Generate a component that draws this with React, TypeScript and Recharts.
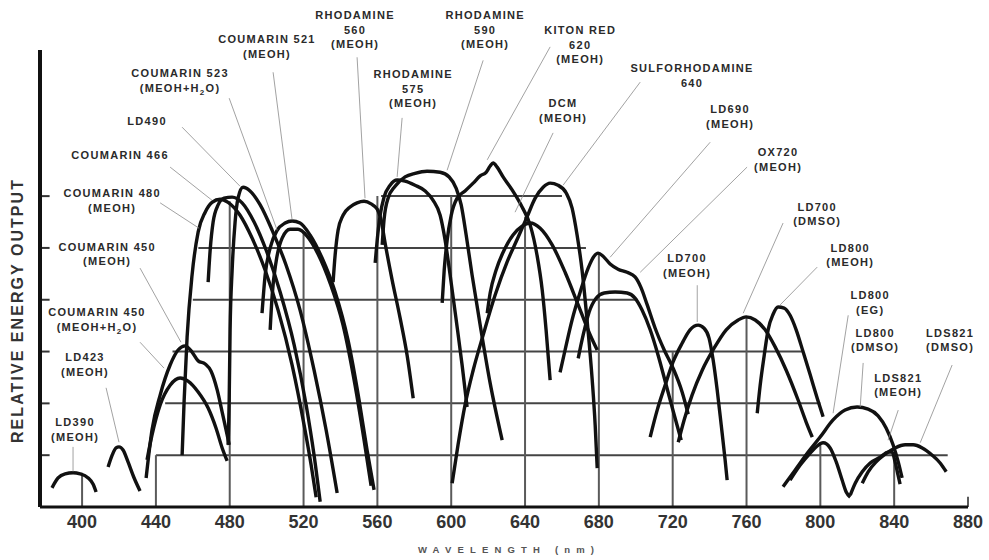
import React from 'react';
import { LineChart, Line, XAxis, YAxis, ReferenceLine, ReferenceDot, Label } from 'recharts';

type Pt = [number, number];

// ---- tuning curves: [wavelength nm, relative energy output] ----
const LD390_MEOH: Pt[] = [[383.7,0.37],[387.0,0.56],[390.8,0.64],[395.1,0.66],[398.9,0.64],[403.3,0.56],[406.0,0.44],[407.6,0.29]];
const LD423_MEOH: Pt[] = [[414.1,0.77],[416.3,1.0],[418.4,1.14],[420.0,1.16],[422.2,1.10],[424.9,0.87],[428.2,0.56],[431.4,0.31]];
const C450_MEOH: Pt[] = [[434.7,0.56],[437.9,1.49],[442.3,2.16],[447.7,2.74],[452.0,3.03],[455.8,3.11],[459.6,2.99],[462.9,2.82],[466.7,2.76],[469.9,2.62],[473.2,2.26],[475.9,1.83],[478.6,1.39],[479.7,1.20]];
const C450_MEOH_H2O: Pt[] = [[435.2,0.91],[437.9,1.39],[442.3,1.97],[447.7,2.35],[453.1,2.49],[457.4,2.43],[462.9,2.22],[468.3,1.91],[472.6,1.52],[475.9,1.14],[478.6,0.89]];
const C480_MEOH: Pt[] = [[454.2,1.0],[455.3,2.06],[456.9,3.28],[459.6,4.48],[462.9,5.31],[466.7,5.69],[470.4,5.88],[474.8,5.94],[479.1,5.88],[485.6,5.63],[492.1,5.19],[499.2,4.57],[506.2,3.80],[513.8,2.74],[520.3,1.58],[524.1,0.81],[526.8,0.19]];
const C466: Pt[] = [[468.3,4.34],[469.4,4.96],[471.0,5.50],[473.7,5.83],[476.9,5.96],[481.3,5.98],[486.7,5.87],[493.2,5.50],[499.7,4.96],[507.3,4.15],[514.9,3.13],[521.4,1.97],[525.7,1.0],[529.0,0.10]];
const LD490: Pt[] = [[479.1,1.20],[479.7,2.06],[480.2,3.42],[481.3,4.57],[482.9,5.50],[484.5,5.96],[487.2,6.17],[491.0,6.10],[496.5,5.83],[503.0,5.34],[510.5,4.67],[518.1,3.80],[525.7,2.64],[532.2,1.49],[538.2,0.27]];
const C521_MEOH: Pt[] = [[497.5,3.74],[499.2,4.48],[501.9,5.0],[505.7,5.34],[510.0,5.48],[513.8,5.52],[518.1,5.48],[523.5,5.25],[530.1,4.80],[537.1,4.15],[544.1,3.22],[550.1,2.06],[554.4,1.10],[558.2,0.33]];
const C523_MEOH_H2O: Pt[] = [[501.9,3.42],[503.0,4.09],[505.1,4.73],[508.4,5.19],[512.7,5.36],[517.0,5.36],[521.9,5.23],[527.9,4.88],[534.4,4.32],[541.4,3.51],[547.9,2.35],[552.8,1.29],[556.6,0.41]];
const R560_MEOH: Pt[] = [[536.0,4.34],[537.1,4.86],[538.7,5.34],[541.4,5.63],[545.2,5.79],[549.0,5.87],[552.8,5.90],[556.6,5.85],[559.9,5.75],[562.0,5.54],[564.2,5.09],[568.0,4.38],[572.3,3.65],[576.1,2.93],[579.4,2.10]];
const R575_MEOH: Pt[] = [[558.8,4.71],[559.9,5.15],[561.5,5.63],[563.6,5.98],[566.9,6.21],[570.7,6.31],[575.0,6.29],[580.4,6.21],[585.9,6.10],[590.2,5.92],[594.0,5.63],[596.7,5.15],[599.4,4.48],[602.7,3.61],[605.9,2.74],[608.6,1.93]];
const R590_MEOH: Pt[] = [[562.6,5.06],[563.6,5.54],[565.8,5.96],[569.6,6.19],[575.0,6.37],[580.4,6.44],[586.9,6.48],[594.0,6.46],[598.9,6.37],[602.7,6.15],[605.4,5.83],[608.1,5.25],[611.3,4.48],[615.7,3.51],[621.1,2.39],[627.6,1.29]];
const KITON_RED_620: Pt[] = [[595.1,3.94],[596.2,4.57],[597.8,5.15],[600.0,5.63],[603.2,5.96],[607.5,6.10],[611.9,6.25],[615.7,6.39],[618.9,6.46],[621.1,6.58],[622.7,6.64],[624.9,6.56],[628.1,6.37],[633.0,6.12],[638.4,5.79],[642.8,5.44],[646.5,4.86],[649.3,4.19],[651.4,3.42],[653.6,2.45]];
const SULFORHODAMINE_640: Pt[] = [[600.5,0.46],[603.7,1.20],[607.5,1.97],[611.9,2.64],[617.3,3.32],[623.8,4.09],[630.3,4.73],[636.3,5.21],[641.1,5.60],[645.5,5.96],[649.8,6.17],[653.6,6.25],[657.9,6.21],[662.3,6.06],[665.5,5.77],[668.2,5.25],[670.9,4.57],[673.6,3.61],[676.4,2.45],[678.0,1.58],[679.1,0.75]];
const DCM_MEOH: Pt[] = [[619.5,3.74],[621.1,4.13],[624.3,4.57],[628.7,4.96],[633.5,5.25],[638.4,5.42],[642.8,5.48],[648.2,5.38],[654.7,5.06],[661.7,4.53],[668.8,3.90],[675.3,3.32],[679.1,3.03]];
const LD690_MEOH: Pt[] = [[659.0,2.60],[661.7,3.03],[665.5,3.61],[669.9,4.15],[674.2,4.61],[677.4,4.84],[679.6,4.90],[682.3,4.84],[686.1,4.69],[690.4,4.59],[695.3,4.53],[699.6,4.44],[702.9,4.23],[706.2,3.90],[710.5,3.45],[715.4,3.03],[720.2,2.68],[725.1,2.22],[728.4,1.79]];
const OX720_MEOH: Pt[] = [[668.8,2.87],[671.5,3.32],[674.7,3.76],[678.5,4.03],[682.9,4.13],[688.8,4.15],[695.3,4.13],[699.6,4.03],[703.4,3.80],[707.8,3.42],[712.1,2.93],[716.5,2.35],[720.8,1.78],[724.6,1.29]];
const LD700_MEOH: Pt[] = [[707.8,1.35],[711.6,1.87],[715.9,2.35],[720.2,2.80],[725.1,3.16],[729.4,3.42],[733.8,3.51],[737.0,3.45],[739.7,3.26],[741.9,2.84],[744.1,2.26],[746.3,1.58],[748.4,0.91],[749.5,0.52]];
const LD700_DMSO: Pt[] = [[723.0,1.25],[726.2,1.68],[730.5,2.16],[736.0,2.64],[742.5,3.07],[749.0,3.42],[755.5,3.61],[759.8,3.67],[764.7,3.61],[770.1,3.42],[775.5,3.09],[781.5,2.64],[788.0,2.06],[792.3,1.64],[795.6,1.35]];
const LD800_MEOH: Pt[] = [[765.8,1.81],[767.4,2.35],[769.6,2.93],[771.7,3.42],[774.4,3.72],[777.1,3.86],[780.4,3.84],[783.6,3.70],[786.9,3.42],[790.7,2.99],[794.5,2.55],[798.3,2.10],[801.5,1.74]];
const LD800_DMSO: Pt[] = [[779.8,0.39],[786.3,0.71],[793.4,1.06],[799.9,1.35],[806.9,1.68],[813.4,1.87],[819.9,1.93],[825.9,1.89],[831.3,1.76],[835.7,1.52],[839.4,1.20],[842.2,0.87],[844.3,0.56]];
const LD800_EG: Pt[] = [[783.6,0.52],[789.1,0.81],[794.5,1.04],[798.3,1.18],[801.5,1.24],[805.3,1.14],[808.6,0.87],[811.8,0.52],[814.0,0.29],[816.2,0.19]];
const LDS821_MEOH: Pt[] = [[816.2,0.23],[818.9,0.46],[822.7,0.68],[827.0,0.85],[832.4,0.96],[836.7,1.06],[838.9,1.06],[840.5,0.87],[842.2,0.60],[843.2,0.44]];
const LDS821_DMSO: Pt[] = [[822.7,0.46],[825.9,0.68],[830.2,0.87],[835.1,1.02],[840.5,1.14],[846.0,1.20],[850.3,1.20],[855.2,1.14],[860.6,1.0],[864.9,0.85],[868.2,0.68]];

const SERIES: { name: string; pts: Pt[] }[] = [
  { name: 'LD390 (MEOH)', pts: LD390_MEOH },
  { name: 'LD423 (MEOH)', pts: LD423_MEOH },
  { name: 'COUMARIN 450 (MEOH)', pts: C450_MEOH },
  { name: 'COUMARIN 450 (MEOH+H2O)', pts: C450_MEOH_H2O },
  { name: 'COUMARIN 480 (MEOH)', pts: C480_MEOH },
  { name: 'COUMARIN 466', pts: C466 },
  { name: 'LD490', pts: LD490 },
  { name: 'COUMARIN 521 (MEOH)', pts: C521_MEOH },
  { name: 'COUMARIN 523 (MEOH+H2O)', pts: C523_MEOH_H2O },
  { name: 'RHODAMINE 560 (MEOH)', pts: R560_MEOH },
  { name: 'RHODAMINE 575 (MEOH)', pts: R575_MEOH },
  { name: 'RHODAMINE 590 (MEOH)', pts: R590_MEOH },
  { name: 'KITON RED 620 (MEOH)', pts: KITON_RED_620 },
  { name: 'SULFORHODAMINE 640', pts: SULFORHODAMINE_640 },
  { name: 'DCM (MEOH)', pts: DCM_MEOH },
  { name: 'LD690 (MEOH)', pts: LD690_MEOH },
  { name: 'OX720 (MEOH)', pts: OX720_MEOH },
  { name: 'LD700 (MEOH)', pts: LD700_MEOH },
  { name: 'LD700 (DMSO)', pts: LD700_DMSO },
  { name: 'LD800 (MEOH)', pts: LD800_MEOH },
  { name: 'LD800 (DMSO)', pts: LD800_DMSO },
  { name: 'LD800 (EG)', pts: LD800_EG },
  { name: 'LDS821 (MEOH)', pts: LDS821_MEOH },
  { name: 'LDS821 (DMSO)', pts: LDS821_DMSO },
];

// ---- axes ----
const X_DOMAIN: [number, number] = [377.2, 880];
const Y_DOMAIN: [number, number] = [0, 8.82];
const X_TICKS = [400, 440, 480, 520, 560, 600, 640, 680, 720, 760, 800, 840, 880];
const Y_LEVELS = [1, 2, 3, 4, 5, 6];

// horizontal grid rules: [level, from nm, to nm]
const H_GRID: [number, number, number][] = [[1, 440, 869], [2, 445, 800], [3, 449, 790], [4, 460, 701], [5, 463, 673], [6, 562, 660]];
// vertical grid rules: [nm, height]
const V_GRID: [number, number][] = [[400, 0.66], [440, 1.0], [480, 5.9], [520, 5.3], [560, 6.0], [600, 6.0], [640, 5.6], [680, 4.9], [720, 3.0], [760, 3.67], [800, 1.25], [840, 1.05], [880, 0.2]];

// ---- annotations: text lines, anchor [nm, level], leader [[nm, level], [nm, level]] ----
const NOTES: { lines: string[]; at: Pt; leader: [Pt, Pt] }[] = [
  { lines: ['LD390', '(MEOH)'], at: [396.2, 1.64], leader: [[395.1, 1.16], [395.1, 0.68]] },
  { lines: ['LD423', '(MEOH)'], at: [401.6, 2.89], leader: [[413.0, 2.30], [420.0, 1.25]] },
  { lines: ['COUMARIN 450', '(MEOH+H2O)'], at: [408.1, 3.76], leader: [[431.4, 3.18], [444.4, 2.68]] },
  { lines: ['COUMARIN 450', '(MEOH)'], at: [413.6, 5.02], leader: [[431.4, 4.61], [453.6, 3.18]] },
  { lines: ['COUMARIN 480', '(MEOH)'], at: [416.3, 6.06], leader: [[442.3, 5.87], [463.4, 5.38]] },
  { lines: ['COUMARIN 466'], at: [420.6, 6.79], leader: [[447.7, 6.56], [470.4, 5.92]] },
  { lines: ['LD490'], at: [435.2, 7.45], leader: [[454.2, 7.33], [485.6, 6.19]] },
  { lines: ['COUMARIN 523', '(MEOH+H2O)'], at: [453.1, 8.37], leader: [[479.7, 7.89], [505.7, 5.34]] },
  { lines: ['COUMARIN 521', '(MEOH)'], at: [500.2, 9.03], leader: [[503.5, 8.39], [513.8, 5.54]] },
  { lines: ['RHODAMINE', '560', '(MEOH)'], at: [547.9, 9.49], leader: [[549.0, 8.68], [553.3, 5.96]] },
  { lines: ['RHODAMINE', '575', '(MEOH)'], at: [579.4, 8.35], leader: [[573.4, 7.51], [570.7, 6.37]] },
  { lines: ['RHODAMINE', '590', '(MEOH)'], at: [618.4, 9.49], leader: [[617.3, 8.62], [597.8, 6.50]] },
  { lines: ['KITON RED', '620', '(MEOH)'], at: [669.9, 9.20], leader: [[653.6, 8.88], [619.5, 6.70]] },
  { lines: ['DCM', '(MEOH)'], at: [660.6, 7.79], leader: [[655.2, 7.22], [634.6, 5.69]] },
  { lines: ['SULFORHODAMINE', '640'], at: [730.5, 8.47], leader: [[702.4, 8.20], [660.6, 6.21]] },
  { lines: ['LD690', '(MEOH)'], at: [751.1, 7.68], leader: [[740.3, 7.04], [686.1, 4.82]] },
  { lines: ['OX720', '(MEOH)'], at: [777.1, 6.85], leader: [[760.3, 6.56], [702.4, 4.53]] },
  { lines: ['LD700', '(DMSO)'], at: [798.3, 5.79], leader: [[779.8, 5.48], [758.2, 3.74]] },
  { lines: ['LD800', '(MEOH)'], at: [816.2, 5.0], leader: [[798.3, 4.63], [778.2, 3.90]] },
  { lines: ['LD700', '(MEOH)'], at: [727.8, 4.80], leader: [[733.3, 4.28], [733.3, 3.57]] },
  { lines: ['LD800', '(EG)'], at: [827.0, 4.09], leader: [[815.1, 3.70], [806.9, 1.81]] },
  { lines: ['LD800', '(DMSO)'], at: [829.7, 3.36], leader: [[823.2, 2.78], [821.6, 1.93]] },
  { lines: ['LDS821', '(DMSO)'], at: [870.3, 3.36], leader: [[871.4, 2.74], [854.1, 1.24]] },
  { lines: ['LDS821', '(MEOH)'], at: [842.2, 2.49], leader: [[842.2, 1.87], [836.7, 1.29]] },
];

const FONT = '"Liberation Sans", Arial, Helvetica, sans-serif';
const LINE_H = 14.5;

const renderLine = (ln: string, i: number, cx: number) => {
  const dy = i === 0 ? 0 : LINE_H;
  const k = ln.indexOf('H2O');
  if (k >= 0) {
    return (
      <tspan key={i} x={cx} dy={dy}>
        {ln.slice(0, k + 1)}
        <tspan dy={3} fontSize={8}>2</tspan>
        <tspan dy={-3}>{ln.slice(k + 2)}</tspan>
      </tspan>
    );
  }
  return (
    <tspan key={i} x={cx} dy={dy}>
      {ln}
    </tspan>
  );
};

const noteShape = (lines: string[]) => (props: any) => {
  const { cx, cy } = props;
  return (
    <text x={cx} y={cy + 4} textAnchor="middle" fontFamily={FONT} fontWeight={700} fontSize={11} letterSpacing={1.3} fill="#2a2a2a">
      {lines.map((ln, i) => renderLine(ln, i, cx))}
    </text>
  );
};

const XTitle = (props: any) => {
  const vb = props.viewBox || { x: 40, y: 507, width: 928, height: 53 };
  const cx = vb.x + vb.width / 2 + 2;
  return (
    <text x={cx} y={vb.y + 46} textAnchor="middle" fontFamily={FONT} fontWeight={700} fontSize={9.5} fill="#555" textLength={176} lengthAdjust="spacing">
      WAVELENGTH (nm)
    </text>
  );
};

const YTitle = (props: any) => {
  const vb = props.viewBox || { x: 0, y: 50, width: 40, height: 457 };
  const x = vb.x + 17;
  const y = vb.y + vb.height / 2 + 33;
  return (
    <text x={x} y={y} transform={`rotate(-90, ${x}, ${y})`} textAnchor="middle" dominantBaseline="central" fontFamily={FONT} fontWeight={700} fontSize={16} fill="#333" textLength={263} lengthAdjust="spacing">
      RELATIVE ENERGY OUTPUT
    </text>
  );
};

export default function App() {
  return (
    <div style={{ position: 'absolute', left: 0, top: 0, width: 989, height: 560, background: '#fff' }}>
      <LineChart width={989} height={560} margin={{ top: 50, right: 21, bottom: 0, left: 0 }}>
        <XAxis
          type="number"
          dataKey="x"
          domain={X_DOMAIN}
          ticks={X_TICKS}
          interval={0}
          allowDataOverflow
          height={53}
          tickLine={false}
          tickMargin={2}
          axisLine={{ stroke: '#111', strokeWidth: 3 }}
          tick={{ fontSize: 18, fontWeight: 700, fill: '#333', fontFamily: FONT }}
        >
          <Label content={<XTitle />} />
        </XAxis>
        <YAxis
          type="number"
          domain={Y_DOMAIN}
          allowDataOverflow
          width={40}
          tick={false}
          tickLine={false}
          axisLine={{ stroke: '#111', strokeWidth: 4 }}
        >
          <Label content={<YTitle />} />
        </YAxis>

        {H_GRID.map(([lv, a, b]) => (
          <ReferenceLine key={`h${lv}`} segment={[{ x: a, y: lv }, { x: b, y: lv }]} stroke="#444" strokeWidth={2} ifOverflow="visible" zIndex={-50} />
        ))}
        {V_GRID.map(([w, h]) => (
          <ReferenceLine key={`v${w}`} segment={[{ x: w, y: 0 }, { x: w, y: h }]} stroke="#5a5a5a" strokeWidth={2} ifOverflow="visible" zIndex={-50} />
        ))}
        {Y_LEVELS.map((lv) => (
          <ReferenceLine key={`t${lv}`} segment={[{ x: 377.2, y: lv }, { x: 382.4, y: lv }]} stroke="#333" strokeWidth={2} ifOverflow="visible" zIndex={-50} />
        ))}

        {SERIES.map((s) => (
          <Line
            key={s.name}
            name={s.name}
            data={s.pts.map(([x, v]) => ({ x, v }))}
            dataKey="v"
            type="monotone"
            stroke="#111"
            strokeWidth={3.4}
            dot={false}
            activeDot={false}
            isAnimationActive={false}
          />
        ))}

        {NOTES.map((n, i) => (
          <ReferenceLine key={`l${i}`} segment={[{ x: n.leader[0][0], y: n.leader[0][1] }, { x: n.leader[1][0], y: n.leader[1][1] }]} stroke="#8a8a8a" strokeWidth={0.8} ifOverflow="visible" />
        ))}
        {NOTES.map((n, i) => (
          <ReferenceDot key={`n${i}`} x={n.at[0]} y={n.at[1]} r={0} ifOverflow="visible" shape={noteShape(n.lines)} />
        ))}
      </LineChart>
    </div>
  );
}
